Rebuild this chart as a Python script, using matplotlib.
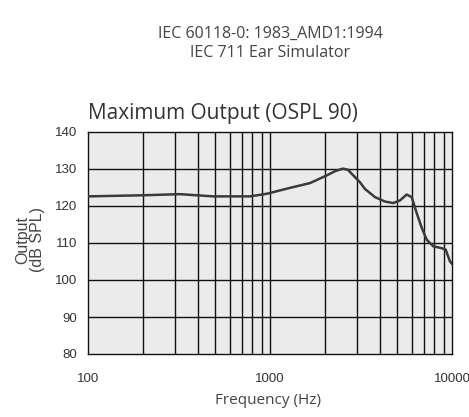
import matplotlib
matplotlib.use("Agg")
import matplotlib.pyplot as plt
import numpy as np

freq_hz = [100, 201, 320, 488, 777, 959, 1288, 1660, 2056, 2300, 2518, 2677,
           2931, 3124, 3326, 3775, 4284, 4754, 5180, 5636, 6008, 6397, 6820,
           7262, 7892, 8776, 9234, 9750, 10000]
output_db = [122.6, 122.9, 123.2, 122.6, 122.6, 123.3, 124.9, 126.2, 128.3, 129.5,
             130.1, 129.8, 127.8, 126.4, 124.6, 122.4, 121.2, 120.8, 121.5, 123.1,
             122.4, 118.1, 114.1, 110.9, 109.1, 108.6, 108.2, 105.0, 104.4]
x_ticks = [100, 1000, 10000]
x_tick_labels = ["100", "1000", "10000"]
y_ticks = [80, 90, 100, 110, 120, 130, 140]
minor_grid = [200, 300, 400, 500, 600, 700, 800, 900,
              2000, 3000, 4000, 5000, 6000, 7000, 8000, 9000]

fig = plt.figure(figsize=(4.69, 4.17), dpi=100)
ax = fig.add_axes([88/469, 1-354/417, (452-88)/469, (354-132)/417])
ax.set_facecolor("#ebebeb")
ax.set_xscale("log")
ax.set_xlim(100, 10000)
ax.set_ylim(80, 140)

for f in minor_grid + [1000]:
    ax.axvline(f, color="#111111", lw=1.0, zorder=1)
for y in y_ticks[1:-1]:
    ax.axhline(y, color="#111111", lw=1.0, zorder=1)

ax.plot(freq_hz, output_db, color="#3a3a3a", lw=1.8, zorder=3,
        solid_joinstyle="round")

ax.set_xticks(x_ticks)
ax.set_xticklabels(x_tick_labels)
ax.xaxis.set_minor_locator(matplotlib.ticker.NullLocator())
ax.set_yticks(y_ticks)
ax.tick_params(axis="both", length=0, labelsize=9.5, labelcolor="#333333")
ax.tick_params(axis="x", pad=14)
ax.tick_params(axis="y", pad=8)
for lab in ax.get_xticklabels() + ax.get_yticklabels():
    lab.set_family("Liberation Sans")
for s in ax.spines.values():
    s.set_color("#111111")
    s.set_linewidth(1.0)

fig.text(88/469, 1-119/417, "Maximum Output (OSPL 90)", fontsize=15,
         family="Open Sans", color="#333333", ha="left", va="baseline")
fig.text(270/469, 1-38/417, "IEC 60118-0: 1983_AMD1:1994", fontsize=11.5,
         family="Open Sans", color="#444444", ha="center", va="baseline")
fig.text(270/469, 1-57/417, "IEC 711 Ear Simulator", fontsize=11.5,
         family="Open Sans", color="#444444", ha="center", va="baseline")
fig.text(268/469, 1-404/417, "Frequency (Hz)", fontsize=11,
         family="Open Sans", color="#444444", ha="center", va="baseline")
fig.text(30/469, 1-240/417, "Output\n(dB SPL)", fontsize=11.5, rotation=90,
         family="Liberation Sans", color="#444444", ha="center", va="center",
         multialignment="center", linespacing=1.0)

fig.savefig("out.png", dpi=100)
